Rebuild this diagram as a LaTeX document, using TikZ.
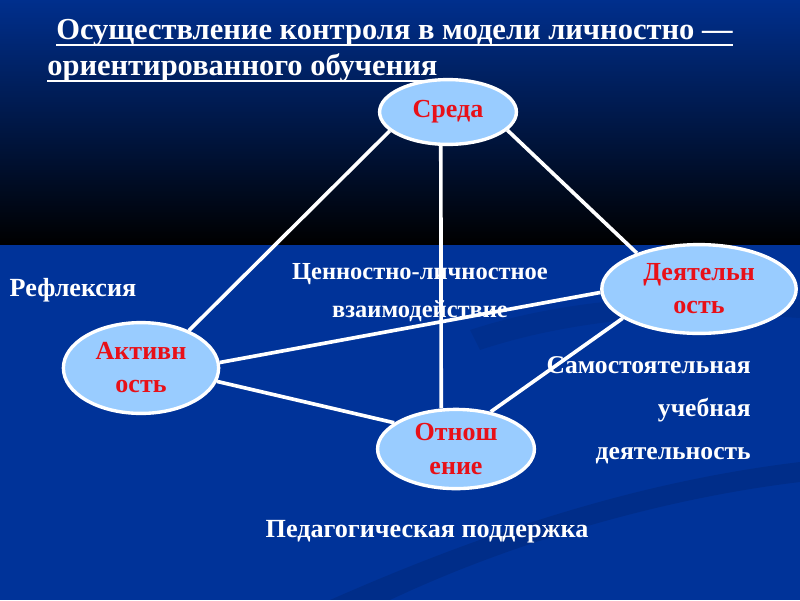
\documentclass[tikz,border=0pt]{standalone}
\usepackage{fontspec}
\setmainfont{Liberation Serif}
\usepackage{xcolor}
\definecolor{slideblue}{RGB}{0,51,153}
\definecolor{ovalfill}{RGB}{153,204,255}
\definecolor{ovaltext}{RGB}{232,16,24}
\usepackage{tikz}
\usetikzlibrary{shapes.geometric}
\newcommand{\thickul}[1]{\setbox0\hbox{#1}\rlap{\raisebox{-5pt}{\rule{\wd0}{1.5pt}}}\box0}

\begin{document}
\begin{tikzpicture}[x=0.025cm, y=-0.025cm,
	oval/.style={ellipse, draw=white, line width=2.4pt, fill=ovalfill, text=ovaltext, align=center,
	             inner sep=0pt, font=\bfseries\fontsize{18.5}{23.5}\selectfont},
	link/.style={draw=white, line width=2.6pt},
	lbl/.style={text=white, inner sep=0pt, font=\bfseries\fontsize{18.6}{27}\selectfont},
	heading/.style={text=white, anchor=base west, inner sep=0pt, font=\bfseries\fontsize{21.7}{24}\selectfont}
	]
	\useasboundingbox (0,0) rectangle (800,600);
	\shade[top color=slideblue!92!black, bottom color=black] (0,0) rectangle (800,245);
	\fill[slideblue] (0,245) rectangle (800,600);
	\fill[black, opacity=0.1] (330,600) .. controls (500,525) and (650,480) .. (800,462)
	      -- (800,482) .. controls (650,500) and (500,548) .. (390,600) -- cycle;
	\fill[black, opacity=0.07] (470,330) .. controls (560,300) and (680,290) .. (800,300)
	      -- (800,318) .. controls (680,310) and (570,320) .. (480,350) -- cycle;

	\node[heading] (title1) at (56,39) {\thickul{Осуществление контроля в модели личностно —}};
	\node[heading] (title2) at (47,75) {\thickul{ориентированного обучения}};

	\node[lbl] (reflex) at (73,290) {Рефлексия};
	\node[lbl, align=center, font=\bfseries\fontsize{17.4}{27}\selectfont] (cennost) at (420,293)
	      {Ценностно-личностное\\взаимодействие};
	\node[lbl, align=right, anchor=east, font=\bfseries\fontsize{18.2}{30.5}\selectfont] (samost) at (751,410)
	      {Самостоятельная\\учебная\\деятельность};
	\node[lbl] (pedag) at (427,532) {Педагогическая поддержка};

	\node[oval, minimum width=3.42cm, minimum height=1.62cm] (sreda) at (448,112) {Среда};
	\node[oval, minimum width=4.86cm, minimum height=2.22cm] (deyat) at (699,289) {Деятельн\\ость};
	\node[oval, minimum width=3.88cm, minimum height=2.27cm] (aktiv) at (141,368) {Активн\\ость};
	\node[oval, minimum width=3.92cm, minimum height=1.98cm] (otnosh) at (456,449) {Отнош\\ение};

	\draw[link] (sreda.198) -- (aktiv.38);
	\draw[link] (sreda.258) -- (otnosh.110);
	\draw[link] (sreda.343) -- (deyat.150);
	\draw[link] (aktiv.4) -- (deyat.182);
	\draw[link] (aktiv.-10) -- (otnosh.157);
	\draw[link] (deyat.201) -- (otnosh.47);
\end{tikzpicture}
\end{document}
